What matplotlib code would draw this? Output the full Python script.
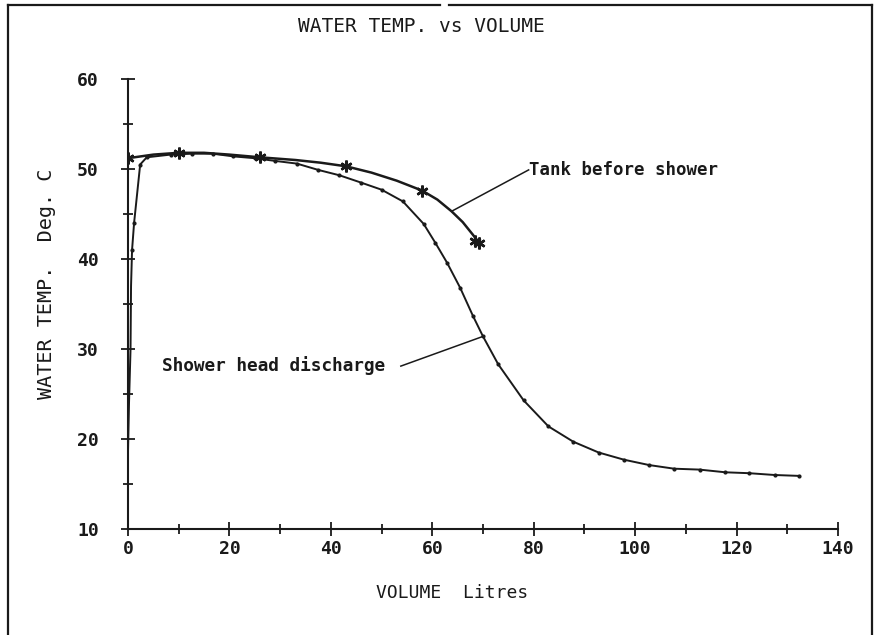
import matplotlib
matplotlib.use("Agg")
import matplotlib.pyplot as plt
from matplotlib.lines import Line2D

# tank before shower: measured points (asterisks) and the drawn curve
tank_x = [0, 10, 26, 43, 58, 68.5, 69.2]
tank_y = [51.2, 51.8, 51.3, 50.3, 47.6, 42.0, 41.8]
tank_curve_x = [0, 5, 10, 15, 20, 26, 33, 38, 43, 48, 53, 58, 61, 63.8, 66, 68, 69.2]
tank_curve_y = [51.2, 51.6, 51.8, 51.8, 51.6, 51.3, 51.0, 50.7, 50.3, 49.6, 48.7, 47.6, 46.6, 45.3, 44.1, 42.7, 41.8]

# shower head discharge: start of the trace near the axis, then the dotted points
shower_start_x = [0, 0.2, 0.5, 0.6, 0.8]
shower_start_y = [18.6, 24, 30, 37, 41]
shower_x = [0.8, 1.2, 2.4, 3.7, 8.4, 12.6, 16.7, 20.8, 25.0, 29.0, 33.3, 37.5, 41.7,
            45.9, 50.0, 54.2, 58.3, 60.6, 62.9, 65.5, 68.0, 70.0, 73.0, 78.0, 82.9,
            87.8, 92.8, 97.8, 102.8, 107.7, 112.7, 117.8, 122.5, 127.5, 132.4]
shower_y = [41, 44.0, 50.5, 51.3, 51.6, 51.7, 51.7, 51.4, 51.2, 50.9, 50.6, 49.9, 49.3,
            48.5, 47.7, 46.4, 43.9, 41.8, 39.6, 36.8, 33.7, 31.4, 28.3, 24.3, 21.4,
            19.7, 18.5, 17.7, 17.1, 16.7, 16.6, 16.3, 16.2, 16.0, 15.9]

x_ticks = [0, 20, 40, 60, 80, 100, 120, 140]
y_ticks = [10, 20, 30, 40, 50, 60]

mono = "DejaVu Sans Mono"
ink = "#1a1a1a"

fig = plt.figure(figsize=(8.86, 6.35), dpi=100)
ax = fig.add_axes([128 / 886, 1 - 529 / 635, 710 / 886, 450 / 635])

ax.plot(tank_curve_x, tank_curve_y, color=ink, lw=1.8)
ax.plot(tank_x, tank_y, ls="none", marker=(6, 2, 0), ms=8.5, mew=1.8, color=ink)

ax.plot(shower_start_x, shower_start_y, color=ink, lw=1.4)
ax.plot(shower_x, shower_y, color=ink, lw=1.4, marker="o", ms=2.0)

# leader lines + labels
ax.plot([63.8, 79.0], [45.3, 49.9], color=ink, lw=1.1)
ax.text(79.0, 49.9, "Tank before shower", family=mono, weight="bold", fontsize=12.5,
        va="center", ha="left", color=ink)
ax.plot([53.8, 70.0], [28.1, 31.4], color=ink, lw=1.1)
ax.text(6.8, 28.2, "Shower head discharge", family=mono, weight="bold", fontsize=12.8,
        va="center", ha="left", color=ink)

ax.set_xlim(0, 140)
ax.set_ylim(10, 60)
for s in ["top", "right"]:
    ax.spines[s].set_visible(False)
for s in ["left", "bottom"]:
    ax.spines[s].set_linewidth(1.5)
    ax.spines[s].set_color(ink)

ax.set_xticks(x_ticks)
ax.set_xticks(range(10, 140, 20), minor=True)
ax.set_yticks(y_ticks)
ax.set_yticks(range(15, 60, 10), minor=True)
ax.tick_params(which="both", direction="inout", color=ink, width=1.3)
ax.tick_params(which="major", length=10)
ax.tick_params(which="minor", length=7)
ax.tick_params(axis="x", pad=3)
ax.tick_params(axis="y", pad=16)
for lab in ax.get_xticklabels() + ax.get_yticklabels():
    lab.set_family(mono)
    lab.set_fontsize(13)
    lab.set_weight("bold")
    lab.set_color(ink)

fig.text(421 / 886, 1 - 27 / 635, "WATER TEMP. vs VOLUME", family=mono, fontsize=14,
         ha="center", va="center", color=ink)
fig.text(452 / 886, 1 - 593 / 635, "VOLUME  Litres", family=mono, fontsize=13,
         ha="center", va="center", color=ink)
fig.text(47 / 886, 1 - 284 / 635, "WATER TEMP.  Deg. C", family=mono, fontsize=14.5,
         ha="center", va="center", rotation=90, color=ink)

# paper frame round the plot
def frame(xs, ys):
    fig.add_artist(Line2D([x / 886 for x in xs], [1 - y / 635 for y in ys],
                          transform=fig.transFigure, color=ink, lw=1.6))

frame([8, 8], [640, 5])
frame([8, 440], [5, 5])
frame([449, 872], [5, 5])
frame([872, 872], [5, 640])

fig.savefig("out.png", dpi=100)
